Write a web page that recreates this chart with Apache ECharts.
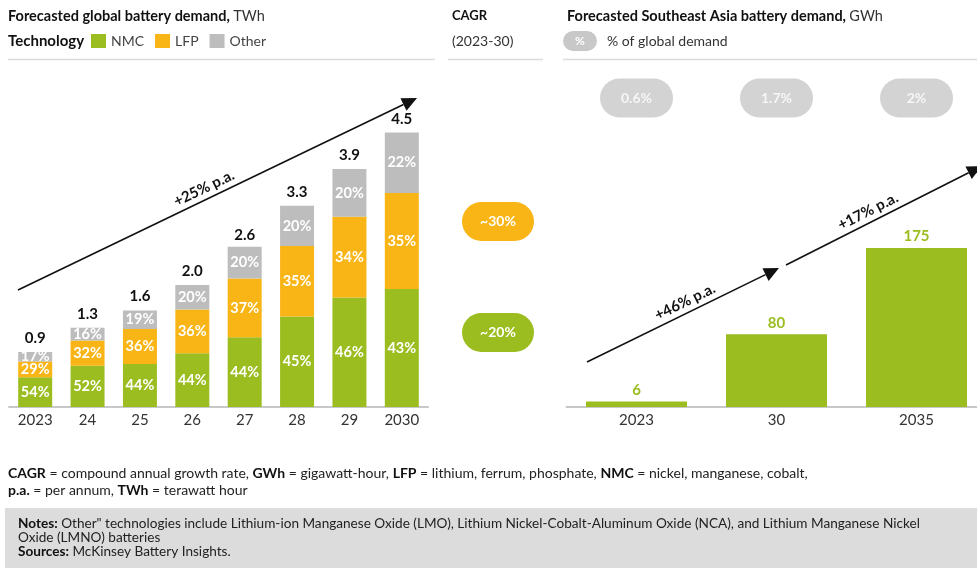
<!DOCTYPE html>
<html><head><meta charset="utf-8">
<script src="https://cdn.jsdelivr.net/npm/echarts@6/dist/echarts.min.js"></script>
<style>html,body{margin:0;padding:0;background:#fff}#c{width:977px;height:568px}</style>
</head><body><div id="c"></div>
<script>
// ---- data ----
var years = ['2023','24','25','26','27','28','29','2030'];
var totals = [0.9, 1.3, 1.6, 2.0, 2.6, 3.3, 3.9, 4.5];           // TWh
var nmcShare = [54, 52, 44, 44, 44, 45, 46, 43];                 // %
var lfpShare = [29, 32, 36, 36, 37, 35, 34, 35];                 // %
var otherShare = [17, 16, 19, 20, 20, 20, 20, 22];               // %
var cagrLabels = ['~30%', '~20%'];                               // LFP, NMC
var seaYears = ['2023', '30', '2035'];
var seaDemand = [6, 80, 175];                                    // GWh
var seaGlobalPct = ['0.6%', '1.7%', '2%'];
var growthLabels = ['+25% p.a.', '+46% p.a.', '+17% p.a.'];

var GREEN = '#9bbd1f', ORANGE = '#f9b515', GREY = '#bdbdbd', PILL = '#c8c8c8';
var FONT = 'Lato, "Open Sans", sans-serif';

function seg(share){ return totals.map(function(t,i){ return +(t*share[i]/100).toFixed(4); }); }
function pctLabel(share){ return function(p){ return share[p.dataIndex] + '%'; }; }

function arrow(x1,y1,x2,y2){
  var a = Math.atan2(y2-y1, x2-x1), L = 15, W = 7;
  var bx = x2 - L*Math.cos(a), by = y2 - L*Math.sin(a);
  return [
    {type:'line', shape:{x1:x1,y1:y1,x2:bx,y2:by}, style:{stroke:'#111', lineWidth:1.6}},
    {type:'polygon', shape:{points:[[x2,y2],[bx - W*Math.sin(a), by + W*Math.cos(a)],[bx + W*Math.sin(a), by - W*Math.cos(a)]]}, style:{fill:'#111'}}
  ];
}
function slantText(txt, x1,y1,x2,y2, cx){
  var a = Math.atan2(y1-y2, x2-x1);
  var off = 11;
  var px = cx + off*Math.sin(a);
  var py = y1 - (px - x1)*(y1-y2)/(x2-x1);
  return {type:'text', x: cx, y: py - off*Math.cos(a), rotation: a,
    style:{text:txt, font:'bold 15px ' + FONT, fill:'#111', align:'center', verticalAlign:'middle'}};
}
function pill(x,y,w,h,fill,txt,fs){
  return [
    {type:'rect', shape:{x:x,y:y,width:w,height:h,r:h/2}, style:{fill:fill}},
    {type:'text', x:x+w/2, y:y+h/2, style:{text:txt, font:'bold '+fs+'px '+FONT, fill:'#fff', align:'center', verticalAlign:'middle'}}
  ];
}

var graphics = [];
// headers
graphics.push({type:'text', x:8, y:16, style:{text:'{b|Forecasted global battery demand,} {r|TWh}', verticalAlign:'middle',
  rich:{b:{font:'bold 14.5px '+FONT, fill:'#111'}, r:{font:'14.5px '+FONT, fill:'#333'}}}});
graphics.push({type:'text', x:8, y:41, style:{text:'Technology', font:'bold 15px '+FONT, fill:'#111', verticalAlign:'middle'}});
graphics.push({type:'text', x:452, y:16, style:{text:'CAGR', font:'bold 13px '+FONT, fill:'#111', verticalAlign:'middle'}});
graphics.push({type:'text', x:452, y:41, style:{text:'(2023-30)', font:'14px '+FONT, fill:'#333', verticalAlign:'middle'}});
graphics.push({type:'text', x:567, y:16, style:{text:'{b|Forecasted Southeast Asia battery demand,} {r|GWh}', verticalAlign:'middle',
  rich:{b:{font:'bold 14.5px '+FONT, fill:'#111'}, r:{font:'14.5px '+FONT, fill:'#333'}}}});
graphics = graphics.concat(pill(563,31,34,20,PILL,'%',12));
graphics.push({type:'text', x:607, y:41, style:{text:'% of global demand', font:'14px '+FONT, fill:'#333', verticalAlign:'middle'}});
// separators
[[8,435],[448,543],[563,977]].forEach(function(s){
  graphics.push({type:'line', shape:{x1:s[0],y1:59.5,x2:s[1],y2:59.5}, style:{stroke:'#dcdcdc', lineWidth:1.5}});
});
// CAGR pills
graphics = graphics.concat(pill(462,202,72,39,ORANGE,cagrLabels[0],14));
graphics = graphics.concat(pill(462,313,72,39,GREEN,cagrLabels[1],14));
// growth arrows
graphics = graphics.concat(arrow(18,290,417,98));
graphics.push(slantText(growthLabels[0],18,290,417,98,204));
graphics = graphics.concat(arrow(587,362,779,268));
graphics.push(slantText(growthLabels[1],587,362,779,268,685));
graphics = graphics.concat(arrow(786,265,982,166));
graphics.push(slantText(growthLabels[2],786,265,982,166,868));
// footer
graphics.push({type:'text', x:8, y:473, style:{verticalAlign:'middle',
  text:'{b|CAGR} = compound annual growth rate, {b|GWh} = gigawatt-hour, {b|LFP} = lithium, ferrum, phosphate, {b|NMC} = nickel, manganese, cobalt,',
  font:'14px '+FONT, fill:'#222', rich:{b:{font:'bold 14px '+FONT, fill:'#111'}}}});
graphics.push({type:'text', x:8, y:490, style:{verticalAlign:'middle',
  text:'{b|p.a.} = per annum, {b|TWh} = terawatt hour',
  font:'14px '+FONT, fill:'#222', rich:{b:{font:'bold 14px '+FONT, fill:'#111'}}}});
graphics.push({type:'rect', shape:{x:5,y:508,width:972,height:60}, style:{fill:'#dcdcdc'}});
graphics.push({type:'text', x:18, y:524, style:{verticalAlign:'middle',
  text:'{b|Notes:} Other" technologies include Lithium-ion Manganese Oxide (LMO), Lithium Nickel-Cobalt-Aluminum Oxide (NCA), and Lithium Manganese Nickel',
  font:'13.6px '+FONT, fill:'#222', rich:{b:{font:'bold 13.6px '+FONT, fill:'#111'}}}});
graphics.push({type:'text', x:18, y:538, style:{verticalAlign:'middle', text:'Oxide (LMNO) batteries', font:'13.6px '+FONT, fill:'#222'}});
graphics.push({type:'text', x:18, y:552, style:{verticalAlign:'middle',
  text:'{b|Sources:} McKinsey Battery Insights.', font:'13.6px '+FONT, fill:'#222', rich:{b:{font:'bold 13.6px '+FONT, fill:'#111'}}}});

var axisLab = {fontSize:15, color:'#333', fontFamily:FONT, margin:6};
var axisLine = {lineStyle:{color:'#c8c8c8', width:2}};
var inLabel = {show:true, position:'inside', color:'#fff', fontWeight:'bold', fontSize:14.5, fontFamily:FONT};
var stadium = 'path://M19.5,0H53.5A19.5,19.5,0,0,1,53.5,39H19.5A19.5,19.5,0,0,1,19.5,0Z';

var chart = echarts.init(document.getElementById('c'), null, {renderer:'canvas'});
chart.setOption({
  animation:false,
  textStyle:{fontFamily:FONT},
  legend:{data:['NMC','LFP','Other'], left:91, top:34, padding:0, itemWidth:15, itemHeight:14, itemGap:11, icon:'rect',
    selectedMode:false, textStyle:{fontSize:14, color:'#444', fontFamily:FONT}},
  grid:[
    {left:9, width:419, top:102, bottom:161, outerBoundsMode:'none'},
    {left:566.5, width:420, top:98, bottom:161, outerBoundsMode:'none'}
  ],
  xAxis:[
    {type:'category', gridIndex:0, data:years, axisTick:{show:false}, axisLine:axisLine, axisLabel:axisLab},
    {type:'category', gridIndex:1, data:seaYears, axisTick:{show:false}, axisLine:axisLine, axisLabel:axisLab}
  ],
  yAxis:[
    {type:'value', gridIndex:0, min:0, max:5, show:false},
    {type:'value', gridIndex:1, min:0, max:340, show:false},
    {type:'value', gridIndex:1, min:0, max:1, show:false}
  ],
  series:[
    {name:'NMC', type:'bar', stack:'g', xAxisIndex:0, yAxisIndex:0, barWidth:34, itemStyle:{color:GREEN},
      data:seg(nmcShare), label:Object.assign({formatter:pctLabel(nmcShare)}, inLabel)},
    {name:'LFP', type:'bar', stack:'g', xAxisIndex:0, yAxisIndex:0, barWidth:34, itemStyle:{color:ORANGE},
      data:seg(lfpShare), label:Object.assign({formatter:pctLabel(lfpShare)}, inLabel)},
    {name:'Other', type:'bar', stack:'g', xAxisIndex:0, yAxisIndex:0, barWidth:34, itemStyle:{color:GREY},
      data:seg(otherShare), label:Object.assign({formatter:pctLabel(otherShare)}, inLabel)},
    {name:'Total', type:'line', xAxisIndex:0, yAxisIndex:0, data:totals, symbol:'circle', symbolSize:2, showSymbol:true,
      itemStyle:{color:'rgba(0,0,0,0)'}, lineStyle:{width:0, color:'rgba(0,0,0,0)'},
      label:{show:true, position:'top', distance:5, color:'#111', fontWeight:'bold', fontSize:15, fontFamily:FONT,
        formatter:function(p){ return totals[p.dataIndex].toFixed(1); }}},
    {name:'SEA', type:'bar', xAxisIndex:1, yAxisIndex:1, barWidth:101, itemStyle:{color:GREEN}, data:seaDemand,
      label:{show:true, position:'top', distance:4, color:GREEN, fontWeight:'bold', fontSize:15, fontFamily:FONT}},
    {name:'Share', type:'scatter', xAxisIndex:1, yAxisIndex:2, clip:false, symbol:stadium, symbolSize:[73,39],
      symbolKeepAspect:false, itemStyle:{color:PILL}, data:seaGlobalPct.map(function(){ return 1; }),
      label:{show:true, position:'inside', color:'#fff', fontWeight:'bold', fontSize:14, fontFamily:FONT,
        formatter:function(p){ return seaGlobalPct[p.dataIndex]; }}}
  ],
  graphic:graphics
});
</script></body></html>
